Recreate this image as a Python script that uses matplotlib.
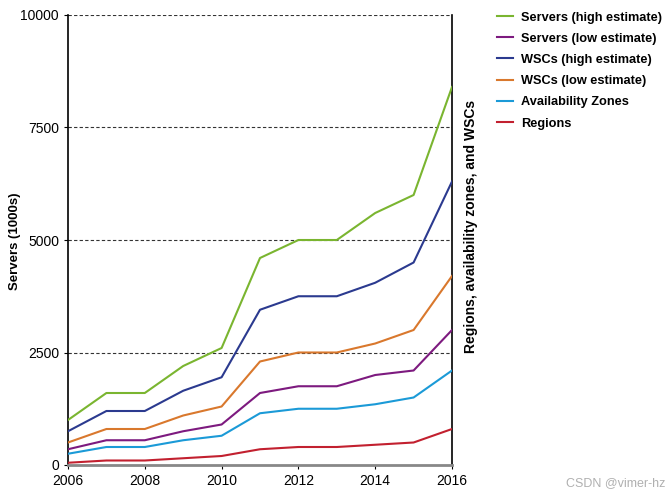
import matplotlib
matplotlib.use("Agg")
import matplotlib.pyplot as plt

years = [2006, 2007, 2008, 2009, 2010, 2011, 2012, 2013, 2014, 2015, 2016]
servers_high = [1000, 1600, 1600, 2200, 2600, 4600, 5000, 5000, 5600, 6000, 8400]
servers_low = [350, 550, 550, 750, 900, 1600, 1750, 1750, 2000, 2100, 3000]
wscs_high = [750, 1200, 1200, 1650, 1950, 3450, 3750, 3750, 4050, 4500, 6300]
wscs_low = [500, 800, 800, 1100, 1300, 2300, 2500, 2500, 2700, 3000, 4200]
avail_zones = [250, 400, 400, 550, 650, 1150, 1250, 1250, 1350, 1500, 2100]
regions = [50, 100, 100, 150, 200, 350, 400, 400, 450, 500, 800]

series = [
    ("Servers (high estimate)", servers_high, "#7ab530"),
    ("Servers (low estimate)", servers_low, "#7d1a7f"),
    ("WSCs (high estimate)", wscs_high, "#2b3a8f"),
    ("WSCs (low estimate)", wscs_low, "#d9782d"),
    ("Availability Zones", avail_zones, "#1b9ad7"),
    ("Regions", regions, "#c2202f"),
]
yticks = [0, 2500, 5000, 7500, 10000]
xticks = [2006, 2008, 2010, 2012, 2014, 2016]

plt.rcParams['font.family'] = ['Liberation Sans', 'DejaVu Sans']

fig = plt.figure(figsize=(6.68, 4.95), dpi=100)
ax = fig.add_axes([68/668, 1-465/495, (452-68)/668, (465-15)/495])

for y in yticks[1:]:
    ax.axhline(y, color="#333333", lw=0.8, ls=(0, (3, 2)), zorder=1)

handles = []
for name, vals, col in series:
    h, = ax.plot(years, vals, color=col, lw=1.5, label=name, zorder=3)
    handles.append(h)

ax.set_xlim(2006, 2016)
ax.set_ylim(0, 10000)
ax.set_xticks(xticks)
ax.set_yticks(yticks)
ax.tick_params(axis='both', labelsize=10, length=3, width=0.8, color='black')
ax.spines['top'].set_visible(False)
ax.spines['left'].set_color('black')
ax.spines['left'].set_linewidth(1.2)
ax.spines['right'].set_color('black')
ax.spines['right'].set_linewidth(1.2)
ax.spines['bottom'].set_color('#888888')
ax.spines['bottom'].set_linewidth(2)

fig.text(15/668, 1-241/495, "Servers (1000s)", rotation=90,
         fontsize=9.5, fontweight='bold', ha='center', va='center')
fig.text(471/668, 1-226/495, "Regions, availability zones, and WSCs", rotation=90,
         fontsize=10, fontweight='bold', ha='center', va='center')

leg = fig.legend(handles=handles, loc='upper left', bbox_to_anchor=(485/668, 1-0/495),
                 frameon=False, prop={'weight': 'bold', 'size': 9.2},
                 handlelength=1.3, handletextpad=0.65, labelspacing=0.72)

fig.text(665/668, 1-483/495, "CSDN @vimer-hz", fontsize=9, color='#b0b0b0',
         ha='right', va='center')

fig.savefig("out.png", dpi=100)
